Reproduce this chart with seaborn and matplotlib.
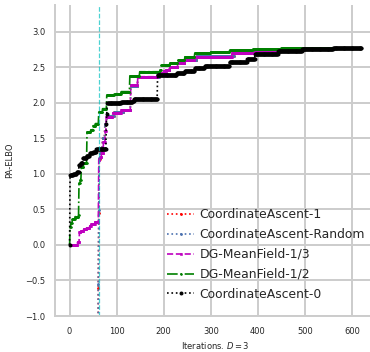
import numpy as np
import pandas as pd
import matplotlib
matplotlib.use("Agg")
import matplotlib.pyplot as plt
import seaborn as sns

# ---- data (change points; value held until next change) ----
END_ITER = 620

red_x = [60, 61, 62, 63, 65, 70, 75, 79, 95, 115, 130, 145, 190, 205, 213, 230, 245, 270, 350, 400, 450, 500]
red_y = [-3.5, -0.6, 0.45, 1.21, 1.29, 1.5, 1.7, 1.82, 1.87, 1.9, 2.24, 2.36, 2.42, 2.46, 2.5, 2.56, 2.6, 2.66, 2.70, 2.73, 2.76, 2.775]

blue_x = [60, 61, 62, 63, 65, 70, 75, 79, 95, 115, 130, 145, 190, 205, 213, 230, 245, 270, 350, 400, 450, 500]
blue_y = [-3.0, -0.55, 0.49, 1.22, 1.3, 1.5, 1.7, 1.82, 1.87, 1.9, 2.24, 2.36, 2.42, 2.46, 2.5, 2.56, 2.6, 2.66, 2.70, 2.73, 2.76, 2.77]

mag_x = [0, 17, 21, 24, 30, 36, 43, 46, 54, 62, 64, 68, 72, 76, 78, 92, 110, 130, 145, 187, 200, 205, 213, 230, 245, 266, 345, 394, 443, 490]
mag_y = [0.0, 0.04, 0.18, 0.20, 0.22, 0.24, 0.27, 0.29, 0.32, 1.2, 1.24, 1.3, 1.45, 1.6, 1.8, 1.86, 1.9, 2.25, 2.37, 2.42, 2.45, 2.47, 2.5, 2.56, 2.6, 2.65, 2.70, 2.73, 2.76, 2.77]

grn_x = [0, 1, 3, 6, 12, 19, 20, 23, 25, 30, 37, 45, 50, 55, 62, 70, 79, 95, 110, 128, 149, 192, 195, 213, 230, 245, 266, 300, 340, 390, 450]
grn_y = [0.0, 0.25, 0.31, 0.36, 0.40, 0.42, 0.87, 0.92, 1.10, 1.15, 1.59, 1.62, 1.68, 1.71, 1.87, 1.92, 2.11, 2.13, 2.16, 2.38, 2.44, 2.46, 2.53, 2.56, 2.60, 2.65, 2.70, 2.72, 2.74, 2.76, 2.77]

blk_x = [0, 1, 8, 15, 20, 24, 28, 36, 43, 50, 57, 78, 79, 80, 110, 134, 137, 187, 200, 228, 245, 266, 287, 340, 377, 394, 443, 494, 560]
blk_y = [0.0, 0.98, 1.0, 1.03, 1.12, 1.15, 1.22, 1.25, 1.29, 1.31, 1.35, 1.7, 1.85, 2.0, 2.01, 2.03, 2.06, 2.39, 2.40, 2.42, 2.45, 2.49, 2.52, 2.58, 2.62, 2.69, 2.73, 2.76, 2.77]

labels = ["CoordinateAscent-1", "CoordinateAscent-Random", "DG-MeanField-1/3",
          "DG-MeanField-1/2", "CoordinateAscent-0"]
restart_iter = 62
x_ticks = [0, 100, 200, 300, 400, 500, 600]
y_ticks = [-1.0, -0.5, 0.0, 0.5, 1.0, 1.5, 2.0, 2.5, 3.0]


def expand(xs, ys, end=END_ITER):
    it = np.arange(xs[0], end + 1)
    idx = np.searchsorted(np.array(xs), it, side="right") - 1
    return it, np.array(ys)[idx]


series = [(red_x, red_y), (blue_x, blue_y), (mag_x, mag_y), (grn_x, grn_y), (blk_x, blk_y)]
frames = []
for lab, (xs, ys) in zip(labels, series):
    it, v = expand(xs, ys)
    frames.append(pd.DataFrame({"iter": it, "elbo": v, "method": lab}))

styles = {
    "CoordinateAscent-1": dict(color="red", linestyle=":", marker=".", markersize=2.5, linewidth=1.2),
    "CoordinateAscent-Random": dict(color="#4c72b0", linestyle=":", marker=".", markersize=2.5, linewidth=1.2),
    "DG-MeanField-1/3": dict(color="m", linestyle="--", marker="s", markersize=1.9, markeredgewidth=0.4, linewidth=1.2),
    "DG-MeanField-1/2": dict(color="g", linestyle="-.", marker=".", markersize=2.2, linewidth=1.2),
    "CoordinateAscent-0": dict(color="k", linestyle=":", marker=".", markersize=4.2, linewidth=1.2),
}

sns.set_style("whitegrid")
plt.rcParams["font.family"] = ["DejaVu Sans"]

fig = plt.figure(figsize=(3.70, 3.52), dpi=100)
ax = fig.add_axes([55 / 370, (352 - 316) / 352, (376 - 55) / 370, (316 - 5) / 352])

for df in frames:
    lab = df["method"].iloc[0]
    st = dict(styles[lab])
    st["markeredgecolor"] = st["color"]
    st["markerfacecolor"] = st["color"]
    sns.lineplot(data=df, x="iter", y="elbo", ax=ax, label=lab, errorbar=None,
                 estimator=None, sort=False, **st)

ax.axvline(restart_iter, color="c", alpha=0.7, linestyle="--", linewidth=0.9)

ax.set_xlim(-31, 651)
ax.set_ylim(-1.0, 3.38)
ax.set_xticks(x_ticks)
ax.set_yticks(y_ticks)
ax.grid(True, color=".8", linewidth=1.4)
for s in ["top", "right"]:
    ax.spines[s].set_visible(False)
for s in ["left", "bottom"]:
    ax.spines[s].set_color(".8")
    ax.spines[s].set_linewidth(1.4)
ax.tick_params(axis="both", labelsize=6, colors=".15", length=0)
ax.tick_params(axis="y", pad=7)
ax.tick_params(axis="x", pad=8)
ax.set_xlabel("Iterations. $D = 3$", fontsize=6, color=".15", labelpad=3)
ax.set_ylabel("PA-ELBO", fontsize=6, color=".15", labelpad=8)

ax.legend(frameon=False, fontsize=8.9, loc="upper left",
          bbox_to_anchor=(156 / 370, 1 - 197 / 352), bbox_transform=fig.transFigure,
          handlelength=2.2, handletextpad=0.4, labelspacing=0.56, borderpad=0.4)

fig.savefig("out.png", dpi=100)
